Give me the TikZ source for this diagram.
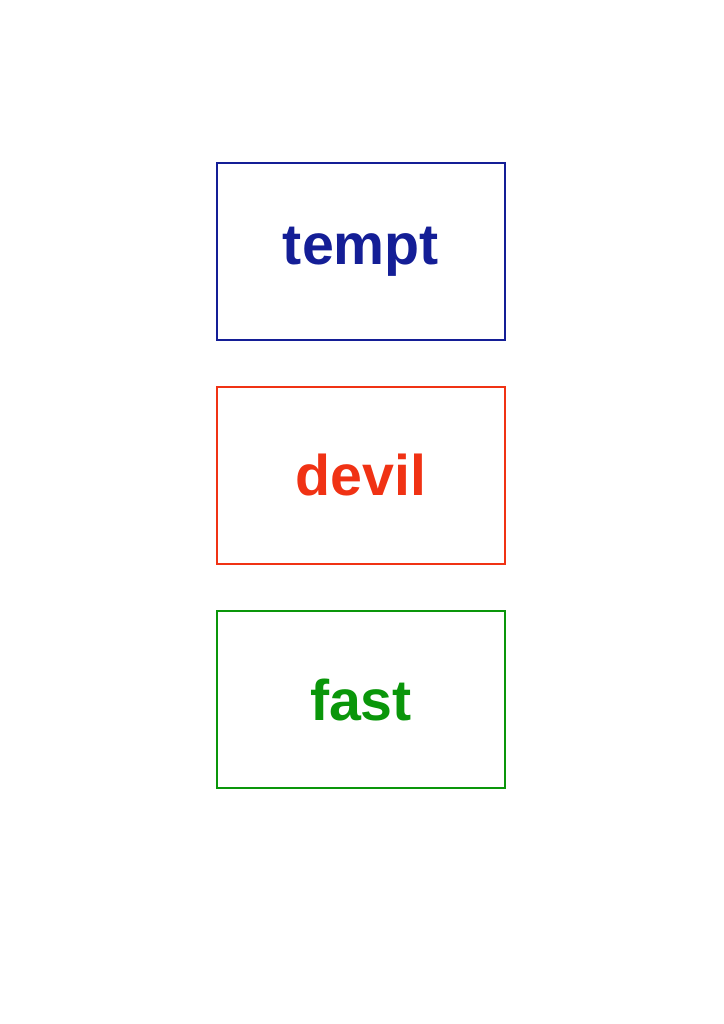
\documentclass[tikz,border=0pt]{standalone}
\usepackage{fontspec}
\setmainfont{Liberation Sans}
\definecolor{cb}{RGB}{20,30,150}
\definecolor{cr}{RGB}{240,50,20}
\definecolor{cg}{RGB}{10,150,10}
\begin{document}
\begin{tikzpicture}[x=0.75pt,y=-0.75pt,
  card/.style={draw=#1,text=#1,line width=2.2pt,minimum width=216pt,minimum height=132.75pt,inner sep=0pt,font=\fontsize{43}{50}\selectfont\bfseries}]
\useasboundingbox (0,0) rectangle (724,1024);
\node[card=cb] (a) at (361,251.5) {tempt};
\node[card=cr] (b) at (361,475.5) {devil};
\node[card=cg] (c) at (361,699.5) {fast};
\end{tikzpicture}
\end{document}
